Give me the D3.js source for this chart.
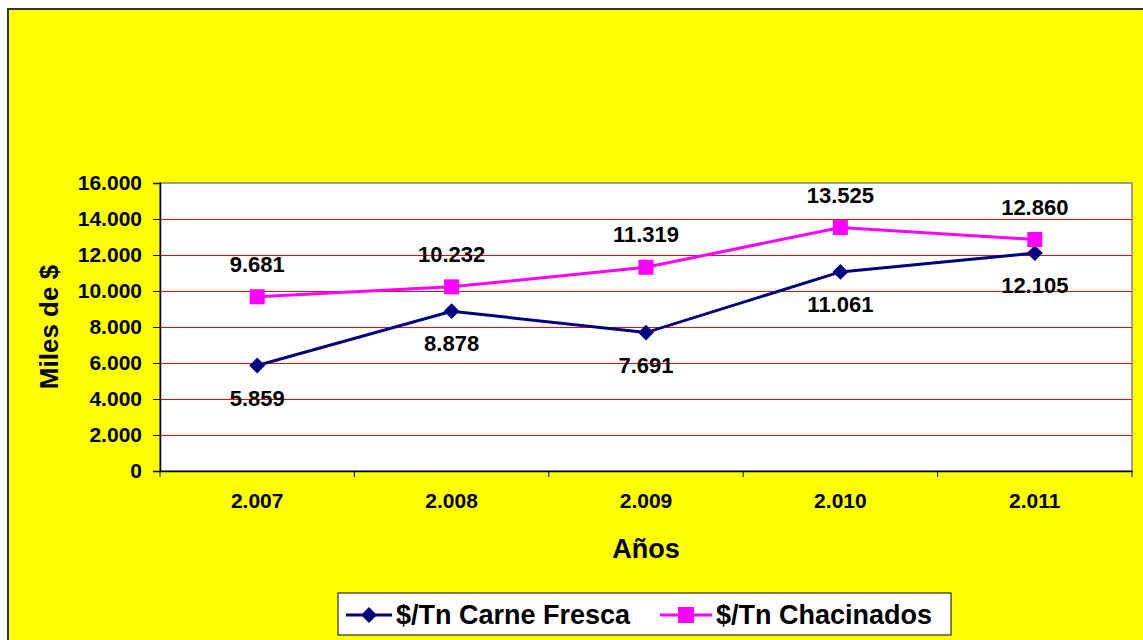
<!DOCTYPE html>
<html>
<head>
<meta charset="utf-8">
<script src="https://cdn.jsdelivr.net/npm/d3@7"></script>
<style>
  body { margin: 0; background: #ffffff; }
  svg { display: block; font-family: "Liberation Sans", Arial, sans-serif; }
</style>
</head>
<body>
<svg id="chart" width="1143" height="640"></svg>
<script>
// data
var years = ["2.007", "2.008", "2.009", "2.010", "2.011"];
var carneFresca = [5859, 8878, 7691, 11061, 12105];
var chacinados = [9681, 10232, 11319, 13525, 12860];
var yTicks = [0, 2000, 4000, 6000, 8000, 10000, 12000, 14000, 16000];
var seriesNames = ["$/Tn Carne Fresca", "$/Tn Chacinados"];

var chart = d3.select("#chart");
var fmt = d3.formatLocale({decimal: ",", thousands: ".", grouping: [3], currency: ["$", ""]}).format(",d");

// background and outer frame
chart.append("rect")
    .attr("x", 8).attr("y", 9)
    .attr("width", 1150).attr("height", 650)
    .attr("fill", "#ffff00")
    .attr("stroke", "#333")
    .attr("stroke-width", 2);

var plotLeft = 160, plotTop = 183, plotRight = 1132, plotBottom = 471;

// x position scale
var x = d3.scaleBand()
    .domain(years)
    .range([plotLeft, plotRight]);

// y position scale
var y = d3.scaleLinear()
    .domain([0, 16000])
    .range([plotBottom, plotTop]);

// plot area
chart.append("rect")
    .attr("x", plotLeft).attr("y", plotTop)
    .attr("width", plotRight - plotLeft).attr("height", plotBottom - plotTop)
    .attr("fill", "#ffffff")
    .attr("stroke", "#808080")
    .attr("stroke-width", 1.5);

// grid lines (red)
chart.selectAll(".grid")
    .data(yTicks.filter(function (d) { return d > 0 && d < 16000; }))
    .enter()
    .append("line")
    .attr("x1", plotLeft).attr("x2", plotRight)
    .attr("y1", function (d) { return y(d) + 0.5; })
    .attr("y2", function (d) { return y(d) + 0.5; })
    .style("stroke", "rgb(255,0,0)")
    .style("stroke-width", "1.2px");

// y axis
var yAxis = d3.axisLeft(y)
    .tickValues(yTicks)
    .tickFormat(fmt)
    .tickSize(7)
    .tickPadding(11);
var yAxisGroup = chart.append("g")
    .attr("transform", "translate(" + plotLeft + ",0)")
    .call(yAxis);
yAxisGroup.select(".domain").attr("stroke", "#000").attr("stroke-width", 1.5);
yAxisGroup.selectAll("text")
    .attr("font-size", "21px")
    .attr("font-weight", "bold")
    .attr("fill", "#000");

// x axis
var xAxis = d3.axisBottom(x)
    .tickSize(0)
    .tickPadding(22);
var xAxisGroup = chart.append("g")
    .attr("transform", "translate(0," + plotBottom + ")")
    .call(xAxis);
xAxisGroup.select(".domain").attr("stroke", "#000").attr("stroke-width", 1.5);
xAxisGroup.selectAll("text")
    .attr("font-size", "21px")
    .attr("font-weight", "bold")
    .attr("fill", "#000");

// x tick marks at band boundaries
var bounds = years.map(function (d) { return x(d); }).concat([plotRight]);
chart.selectAll(".xtick")
    .data(bounds)
    .enter()
    .append("line")
    .attr("x1", function (d) { return d; })
    .attr("x2", function (d) { return d; })
    .attr("y1", plotBottom).attr("y2", plotBottom + 6)
    .attr("stroke", "#000")
    .attr("stroke-width", 1);

// axis titles
chart.append("text")
    .text("Años")
    .attr("x", (plotLeft + plotRight) / 2)
    .attr("y", 558)
    .attr("text-anchor", "middle")
    .attr("font-size", "27px")
    .attr("font-weight", "bold");

chart.append("text")
    .text("Miles de $")
    .attr("transform", "translate(58," + ((plotTop + plotBottom) / 2) + ") rotate(-90)")
    .attr("text-anchor", "middle")
    .attr("font-size", "26px")
    .attr("font-weight", "bold");

var cx = function (d, i) { return x(years[i]) + x.bandwidth() / 2; };
var line = d3.line()
    .x(function (d, i) { return cx(d, i); })
    .y(function (d) { return y(d); });

// carne fresca line
chart.append("path")
    .datum(carneFresca)
    .attr("d", line)
    .attr("fill", "none")
    .attr("stroke", "#000080")
    .attr("stroke-width", 3);

// chacinados line
chart.append("path")
    .datum(chacinados)
    .attr("d", line)
    .attr("fill", "none")
    .attr("stroke", "#ff00ff")
    .attr("stroke-width", 3);

// markers
chart.selectAll(".diamond")
    .data(carneFresca)
    .enter()
    .append("path")
    .attr("d", d3.symbol().type(d3.symbolDiamond2).size(160))
    .attr("transform", function (d, i) { return "translate(" + cx(d, i) + "," + y(d) + ")"; })
    .attr("fill", "#000080");

chart.selectAll(".square")
    .data(chacinados)
    .enter()
    .append("rect")
    .attr("x", function (d, i) { return cx(d, i) - 7.5; })
    .attr("y", function (d) { return y(d) - 7.5; })
    .attr("width", 15).attr("height", 15)
    .attr("fill", "#ff00ff");

// data labels
chart.selectAll(".lblA")
    .data(carneFresca)
    .enter()
    .append("text")
    .text(function (d) { return fmt(d); })
    .attr("x", function (d, i) { return cx(d, i); })
    .attr("y", function (d) { return y(d) + 40; })
    .attr("text-anchor", "middle")
    .attr("font-size", "22px")
    .attr("font-weight", "bold");

chart.selectAll(".lblB")
    .data(chacinados)
    .enter()
    .append("text")
    .text(function (d) { return fmt(d); })
    .attr("x", function (d, i) { return cx(d, i); })
    .attr("y", function (d) { return y(d) - 25; })
    .attr("text-anchor", "middle")
    .attr("font-size", "22px")
    .attr("font-weight", "bold");

// legend
chart.append("rect")
    .attr("x", 338).attr("y", 593)
    .attr("width", 613).attr("height", 42)
    .attr("fill", "#ffffff")
    .attr("stroke", "#000")
    .attr("stroke-width", 1);

chart.append("line")
    .attr("x1", 346).attr("x2", 392)
    .attr("y1", 615).attr("y2", 615)
    .attr("stroke", "#000080").attr("stroke-width", 3);
chart.append("path")
    .attr("d", d3.symbol().type(d3.symbolDiamond2).size(160))
    .attr("transform", "translate(369,615)")
    .attr("fill", "#000080");
chart.append("text")
    .text(seriesNames[0])
    .attr("x", 396).attr("y", 624)
    .attr("font-size", "27px")
    .attr("font-weight", "bold");

chart.append("line")
    .attr("x1", 660).attr("x2", 712)
    .attr("y1", 615).attr("y2", 615)
    .attr("stroke", "#ff00ff").attr("stroke-width", 3);
chart.append("rect")
    .attr("x", 678).attr("y", 607)
    .attr("width", 16).attr("height", 16)
    .attr("fill", "#ff00ff");
chart.append("text")
    .text(seriesNames[1])
    .attr("x", 716).attr("y", 624)
    .attr("font-size", "27px")
    .attr("font-weight", "bold");
</script>
</body>
</html>
